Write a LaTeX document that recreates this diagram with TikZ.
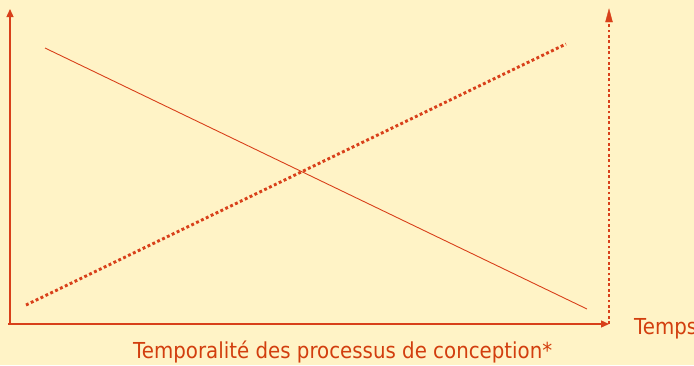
\documentclass[tikz,border=0pt]{standalone}
\usepackage{fontspec}
\setmainfont{DejaVu Sans}[FakeStretch=0.9]
\usetikzlibrary{arrows.meta}
\definecolor{bg}{HTML}{FFF3C6}
\definecolor{ln}{HTML}{D8401A}
\definecolor{tx}{HTML}{D23E0E}
\tikzset{
  axis/.style={draw=ln, line width=1.3pt, -{Triangle[length=8pt,width=7pt]}},
  trend/.style={draw=ln, line width=0.9pt},
  dotline/.style={draw=ln, line width=2.9pt, dash pattern=on 2.9pt off 2.5pt},
  lbl/.style={text=tx, font=\fontsize{22}{26}\selectfont, inner sep=0pt, anchor=base west}
}
\begin{document}
\begin{tikzpicture}[x=1pt,y=-1pt]
\fill[bg] (0,0) rectangle (694,365);
\useasboundingbox (0,0) rectangle (694,365);
\coordinate (o) at (10,325);
\coordinate (ytop) at (10,9);
\coordinate (xend) at (609,324);
\coordinate (rb) at (609,324);
\coordinate (rtop) at (609,9);
\coordinate (s1) at (45,48);
\coordinate (s2) at (587,309);
\coordinate (d1) at (26,305);
\coordinate (d2) at (566,44);
\draw[axis] (o) -- (ytop);
\draw[axis] (8,324) -- (xend);
\draw[dotline] (rb) -- (609,24);
\draw[ln, fill=ln] (rtop) -- (605.5,22) -- (612.5,22) -- cycle;
\draw[trend] (s1) -- (s2);
\draw[dotline] (d1) -- (d2);
\node[lbl] (tp) at (634,334) {Temps};
\node[lbl] (cap) at (133,358) {Temporalité des processus de conception*};
\end{tikzpicture}
\end{document}
